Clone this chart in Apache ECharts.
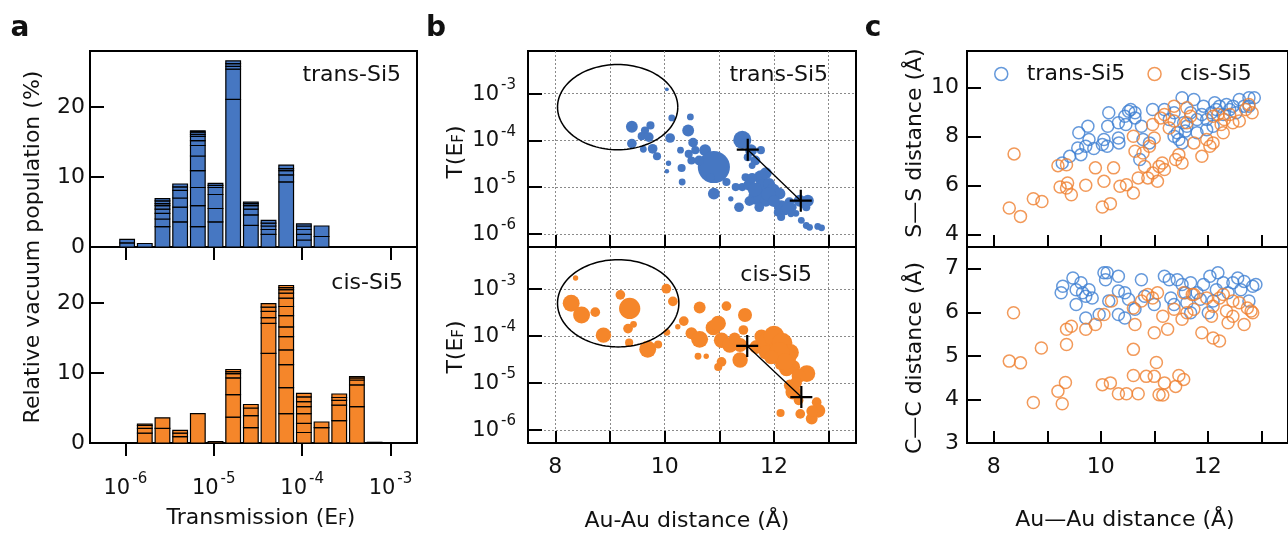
<!DOCTYPE html>
<html><head><meta charset="utf-8">
<script src="https://cdn.jsdelivr.net/npm/echarts@6/dist/echarts.min.js"></script>
<style>html,body{margin:0;padding:0;background:#fff}#c{width:1288px;height:534px}</style>
</head><body><div id="c"></div>
<script>
// ---------- Panel a: histogram of log10 transmission (stack boundaries, % population) ----------
const transBinCenters = [-5.98,-5.78,-5.58,-5.38,-5.18,-4.98,-4.78,-4.58,-4.38,-4.18,-3.98,-3.78];
const transStacks = [
  [0.6,1.1],
  [0.5],
  [2.9,4.0,4.8,5.4,5.9,6.2,6.6,6.9],
  [3.6,5.7,7.0,8.1,8.6,9.0],
  [2.9,5.9,8.5,10.9,13.0,14.5,15.2,15.8,16.1,16.4,16.6],
  [3.6,5.5,7.5,8.5,8.8,9.1],
  [21.1,25.4,25.8,26.2,26.6],
  [3.1,4.6,5.4,5.9,6.2,6.4],
  [1.8,2.5,3.0,3.4,3.8],
  [9.3,10.3,10.9,11.2,11.7],
  [1.0,1.8,2.5,3.0,3.3],
  [1.5,3.0]
];
const cisBinCenters = [-5.78,-5.58,-5.38,-5.18,-4.98,-4.78,-4.58,-4.38,-4.18,-3.98,-3.78,-3.58,-3.38,-3.18];
const cisStacks = [
  [1.4,2.1,2.5,2.7],
  [2.1,3.6],
  [0.9,1.4,1.8],
  [4.2],
  [0.2],
  [3.7,6.9,9.3,9.9,10.2,10.5],
  [2.2,3.9,5.0,5.5],
  [12.8,17.1,17.9,18.8,19.4,19.9],
  [4.2,7.9,11.2,13.3,15.2,16.6,18.2,19.5,20.7,21.4,21.9,22.2,22.5],
  [1.5,2.8,4.2,5.2,5.9,6.6,7.1],
  [2.2,3.0],
  [3.2,5.4,6.1,6.5,7.0],
  [5.2,8.3,9.0,9.3,9.5],
  [0.1]
];
const histXTicks = [-6,-5,-4,-3];
const histYTicks = [0,10,20];

// ---------- Panel b: [Au-Au distance, log10 T(EF), population weight] ----------
const transBubbles = [
  [10.04,-2.91,0.2],[9.40,-3.71,2.8],[9.74,-3.68,1.2],[9.64,-3.79,1.2],[9.58,-3.91,1.2],
  [9.71,-3.93,1.8],[9.40,-4.07,1.8],[9.61,-4.19,0.8],[9.78,-4.18,1.8],[9.86,-4.34,1.2],
  [10.13,-3.52,0.8],[10.10,-3.95,1.8],[10.43,-3.79,2.8],[10.47,-3.50,0.8],[10.52,-4.05,1.8],
  [10.29,-4.21,0.8],[10.44,-4.29,1.2],[10.56,-4.21,1.2],[10.74,-4.21,2.8],[10.49,-4.43,1.2],
  [10.07,-4.49,0.45],[10.04,-4.66,0.3],[10.31,-4.59,1.2],[10.90,-4.57,23],[10.63,-4.43,1.8],
  [10.32,-4.89,0.8],[10.90,-5.14,2.8],[11.13,-4.89,1.2],[11.42,-3.99,7],[11.58,-4.21,2.8],
  [11.76,-4.21,1.2],[11.52,-4.36,1.2],[11.66,-4.43,1.8],[11.60,-4.54,0.8],[11.76,-4.79,4],
  [11.79,-5.00,4.9],[11.91,-4.93,2.8],[11.98,-5.07,4],[12.10,-5.14,2.8],[11.67,-5.21,4.9],
  [11.85,-5.29,2.8],[11.73,-5.43,1.8],[11.42,-5.00,1.2],[11.30,-5.00,1.2],[11.21,-5.25,0.45],
  [11.36,-5.43,1.8],[12.13,-5.43,4],[12.28,-5.32,1.8],[12.34,-5.43,1.2],[12.07,-5.54,1.2],
  [12.13,-5.64,1.2],[12.47,-5.29,2.8],[12.62,-5.29,2.8],[12.59,-5.43,1.2],[12.40,-5.56,0.8],
  [12.31,-5.57,0.8],[12.50,-5.71,0.8],[12.59,-5.82,0.8],[12.65,-5.86,0.8],[12.80,-5.84,0.8],
  [12.87,-5.87,0.8],[10.84,-4.79,1.2],[11.48,-4.79,1.2],
  [11.55,-4.95,2.8],[11.65,-5.05,4],[11.90,-5.15,4],[12.00,-5.30,2.8],[12.20,-5.50,1.8],
  [12.25,-5.45,2.8],[11.55,-5.30,1.8],[12.55,-5.35,1.8],[11.85,-4.70,2.8],[11.60,-4.80,1.8]
];
const cisBubbles = [
  [8.37,-2.76,0.45],[8.29,-3.30,6],[8.48,-3.55,6],[8.73,-3.49,1.8],[8.88,-3.98,4.9],
  [9.19,-3.12,1.8],[9.36,-3.41,9.7],[9.33,-3.84,1.8],[9.43,-3.75,0.8],[9.35,-4.14,1.2],
  [9.69,-4.28,6],[9.88,-4.18,1.2],[10.03,-2.99,1.8],[10.15,-3.26,1.8],[10.04,-3.92,0.8],
  [10.24,-3.80,0.45],[10.35,-3.68,1.8],[10.49,-3.94,2.8],[10.64,-3.39,2.8],[10.64,-4.07,6],
  [10.61,-4.43,0.8],[10.76,-4.43,0.45],[10.89,-3.82,4.9],[10.98,-3.73,4.9],[11.13,-3.36,1.8],
  [11.04,-4.09,4.9],[11.19,-4.19,4.9],[11.04,-4.55,1.8],[10.98,-4.66,1.2],[11.38,-4.51,4.9],
  [11.47,-3.55,4],[11.44,-3.87,1.8],[11.28,-4.05,2.8],[11.38,-4.19,4],[11.68,-4.23,4],
  [11.77,-4.01,4],[12.05,-4.26,22],[11.93,-4.12,11],[12.00,-4.00,9],[12.15,-4.15,9],
  [12.30,-4.35,6],[11.85,-4.35,4],[12.23,-4.48,7.7],[12.35,-4.66,4],[12.23,-4.69,4.9],
  [12.60,-4.80,6],[12.29,-5.05,2.8],[12.35,-5.19,4.9],[12.45,-5.37,1.8],[12.78,-5.41,1.8],
  [12.81,-5.59,4],[12.69,-5.76,2.8],[12.48,-5.66,1.8],[12.12,-5.64,1.2],[12.11,-4.62,1.8],
  [12.10,-4.35,9],[12.20,-4.55,6],[11.95,-4.45,4],[12.45,-4.85,4],[12.40,-5.00,2.8],[12.70,-5.60,2.8]
];
const transMeans = [[11.52,-4.20],[12.49,-5.29]];
const cisMeans = [[11.51,-4.21],[12.50,-5.30]];
const transEllipse = [[9.14,-3.29,1.10,0.91]];
const cisEllipse = [[9.15,-3.30,1.11,0.93]];
const bYTicks = [-6,-5,-4,-3];
const distTicks = [8,9,10,11,12,13];
const distLabels = [8,10,12];

// ---------- Panel c: [Au-Au distance, S-S distance] and [Au-Au distance, C-C distance] ----------
const transSS = [
  [9.28,6.93],[9.42,7.20],[9.59,8.16],[9.76,8.43],[9.57,7.54],[9.72,7.61],[9.63,7.27],[9.78,7.89],
  [9.87,7.52],[10.03,7.68],[10.06,7.89],[10.15,8.98],[10.13,8.43],[10.12,7.61],[10.33,7.95],[10.34,7.75],
  [10.33,8.57],[10.45,8.84],[10.52,9.04],[10.56,9.11],[10.64,8.77],[10.76,8.43],[10.47,8.50],[10.64,8.98],
  [10.73,7.07],[10.79,7.89],[10.97,9.11],[10.91,7.75],[11.19,9.11],[11.28,8.70],[11.37,8.98],[11.43,8.16],
  [11.46,7.89],[11.52,9.59],[11.55,8.57],[11.61,8.43],[11.58,8.23],[11.52,7.75],[11.68,8.98],[11.74,9.52],
  [11.80,8.70],[11.80,8.16],[11.89,8.91],[11.92,9.25],[11.98,8.70],[11.98,8.29],[12.07,8.98],[12.13,9.39],
  [12.16,9.11],[12.22,9.25],[12.29,8.91],[12.35,9.32],[12.41,9.11],[12.47,9.25],[12.53,8.98],[12.59,9.52],
  [12.68,9.25],[12.77,9.59],[12.87,9.59],[12.77,9.25],[12.10,8.43],[11.37,8.02]
];
const cisSS = [
  [8.38,7.30],[8.29,5.09],[8.50,4.75],[8.74,5.47],[8.90,5.36],[9.20,6.82],[9.36,6.86],[9.24,5.95],
  [9.38,6.11],[9.36,5.91],[9.45,5.63],[9.72,6.02],[9.90,6.73],[10.06,6.18],[10.03,5.13],[10.18,5.27],
  [10.24,6.73],[10.36,5.98],[10.48,6.04],[10.61,5.70],[10.61,8.02],[10.64,7.41],[10.70,6.32],[10.79,7.34],
  [10.82,6.79],[10.88,6.32],[10.91,7.61],[10.97,6.52],[11.00,7.95],[10.97,8.50],[11.06,6.18],[11.09,6.79],
  [11.15,6.93],[11.19,6.66],[11.12,8.77],[11.19,8.91],[11.28,8.36],[11.37,9.25],[11.40,7.07],[11.46,7.27],
  [11.52,6.93],[11.61,9.18],[11.68,8.84],[11.74,7.75],[11.89,7.20],[11.98,7.89],[12.04,7.61],[12.10,7.75],
  [12.10,8.84],[12.19,8.91],[12.25,8.50],[12.31,8.70],[12.41,8.91],[12.47,8.57],[12.59,8.64],[12.71,9.11],
  [12.77,9.32],[12.83,8.98],[12.29,8.16],[11.61,8.57],[11.37,8.64]
];
const transCC = [
  [9.29,6.60],[9.26,6.45],[9.48,6.79],[9.54,6.52],[9.63,6.68],[9.66,6.45],[9.72,6.37],[9.78,6.52],
  [9.84,6.33],[9.54,6.18],[9.72,5.87],[10.06,6.91],[10.09,6.75],[10.12,6.91],[10.33,6.83],[10.15,6.26],
  [10.33,6.49],[10.45,6.45],[10.52,6.30],[10.33,5.95],[10.45,5.87],[10.64,6.07],[10.76,6.75],[10.82,6.37],
  [11.00,6.18],[11.19,6.83],[11.28,6.75],[11.37,6.18],[11.43,6.75],[11.52,6.64],[11.58,6.45],[11.61,6.22],
  [11.68,6.68],[11.80,6.45],[11.86,6.30],[11.92,6.64],[12.01,5.99],[12.04,6.83],[12.16,6.52],[12.19,6.91],
  [12.29,6.68],[12.38,6.45],[12.47,6.68],[12.56,6.79],[12.62,6.52],[12.68,6.71],[12.77,6.26],[12.84,6.60],
  [12.90,6.64],[12.10,6.26],[11.31,6.33],[11.68,5.99],[9.97,5.95]
];
const cisCC = [
  [8.37,5.99],[8.29,4.88],[8.50,4.84],[8.74,3.93],[8.89,5.18],[9.20,4.19],[9.28,3.90],[9.34,4.39],
  [9.36,5.26],[9.36,5.61],[9.45,5.68],[9.72,5.61],[9.90,5.72],[10.06,5.95],[10.03,4.34],[10.18,4.38],
  [10.33,4.13],[10.48,4.13],[10.70,4.13],[10.61,4.55],[10.61,5.15],[10.64,5.72],[10.20,6.26],[10.61,6.10],
  [10.76,6.26],[10.85,4.53],[11.00,4.53],[11.04,4.85],[11.00,5.53],[11.06,6.45],[10.88,6.41],[10.97,6.33],
  [11.16,5.91],[11.19,4.38],[11.16,4.10],[11.09,4.11],[11.25,5.61],[11.37,6.07],[11.40,4.30],[11.46,4.55],
  [11.55,4.46],[11.55,6.45],[11.52,5.84],[11.61,5.99],[11.74,6.07],[11.74,6.41],[11.89,5.53],[11.98,6.33],
  [12.07,5.91],[12.10,5.41],[12.22,5.34],[12.22,6.33],[12.29,6.41],[12.35,6.03],[12.38,5.76],[12.47,5.91],
  [12.47,6.26],[12.59,6.22],[12.68,5.72],[12.74,6.10],[12.81,6.03],[12.84,5.99],[12.10,6.14],[11.71,6.41]
];
const ssTicks = [4,6,8,10];
const ccTicks = [3,4,5,6,7];

// ---------- styling ----------
const FONT = 'DejaVu Sans';
const BLUE = '#4677c2', ORANGE = '#f5862a';
const BLUE_C = '#3f7fd2', ORANGE_C = '#ef8030';
const BAR_HALF = 0.083;

function stackData(centers, stacks) {
  const out = [];
  centers.forEach((c, i) => { let prev = 0; stacks[i].forEach(t => { out.push([c, prev, t]); prev = t; }); });
  return out;
}
function barRender(color) {
  return function (params, api) {
    const x = api.value(0), y0 = api.value(1), y1 = api.value(2);
    const p0 = api.coord([x - BAR_HALF, y1]);
    const p1 = api.coord([x + BAR_HALF, y0]);
    return { type: 'rect', shape: { x: p0[0], y: p0[1], width: p1[0] - p0[0], height: p1[1] - p0[1] },
      style: { fill: color, stroke: '#000', lineWidth: 1.2 } };
  };
}
function ellipseRender(params, api) {
  const cx = api.value(0), cy = api.value(1), rx = api.value(2), ry = api.value(3);
  const pts = [];
  for (let k = 0; k <= 120; k++) {
    const t = k / 120 * 2 * Math.PI;
    pts.push(api.coord([cx + rx * Math.cos(t), cy + ry * Math.sin(t)]));
  }
  return { type: 'polyline', shape: { points: pts }, style: { stroke: '#000', lineWidth: 1.5, fill: null } };
}
const PLUS = 'path://M9,0H11V9H20V11H11V20H9V11H0V9H9Z';
const bubbleSize = d => 1 + Math.sqrt(d[2]) * 6.5;

const supRich = {
  b: { fontFamily: FONT, fontSize: 21, lineHeight: 22, color: '#111', verticalAlign: 'bottom' },
  s: { fontFamily: FONT, fontSize: 15, lineHeight: 15, color: '#111', padding: [0, 0, 12, 2], verticalAlign: 'bottom' }
};
const supFmt = v => '{b|10}{s|' + v + '}';
const lbl = { fontFamily: FONT, fontSize: 22, color: '#111' };
const axLine = { show: true, onZero: false, lineStyle: { color: '#000', width: 2 } };
const dotted = { show: true, lineStyle: { color: '#8a8a8a', width: 1, type: [2, 2] } };

const grids = [
  { left: 90, top: 51, width: 327, height: 196 },
  { left: 90, top: 247, width: 327, height: 196 },
  { left: 528, top: 51, width: 328, height: 196 },
  { left: 528, top: 247, width: 328, height: 196 },
  { left: 967, top: 51, width: 327, height: 196 },
  { left: 967, top: 247, width: 327, height: 196 }
].map(g => Object.assign({ show: true, borderColor: '#000', borderWidth: 2, backgroundColor: 'transparent', containLabel: false }, g));

function histX(gi, withLabels) {
  return { type: 'value', gridIndex: gi, min: -6.4, max: -2.7, axisLine: axLine,
    axisTick: { show: true, customValues: histXTicks, inside: false, length: 13, lineStyle: { color: '#000', width: 2 } },
    axisLabel: withLabels ? { show: true, customValues: histXTicks, formatter: supFmt, rich: supRich, margin: 34 } : { show: false },
    splitLine: { show: false } };
}
function distX(gi, withLabels, grid) {
  return { type: 'value', gridIndex: gi, min: 7.5, max: 13.5, axisLine: axLine,
    axisTick: { show: true, customValues: distTicks, inside: true, length: 12, lineStyle: { color: '#000', width: 2 } },
    axisLabel: withLabels ? Object.assign({ show: true, customValues: distLabels, margin: 13 }, lbl) : { show: false },
    splitLine: grid ? dotted : { show: false } };
}
function simpleY(gi, min, max, ticks, margin, grid, rich) {
  const label = rich ? { show: true, customValues: ticks, formatter: supFmt, rich: supRich, margin: margin }
                     : Object.assign({ show: true, customValues: ticks, margin: margin }, lbl);
  return { type: 'value', gridIndex: gi, min: min, max: max, axisLine: axLine,
    axisTick: { show: true, customValues: ticks, inside: true, length: 14, lineStyle: { color: '#000', width: 2 } },
    axisLabel: label, splitLine: grid ? dotted : { show: false } };
}

const circleStyle = c => ({ color: 'rgba(0,0,0,0)', borderColor: c, borderWidth: 1.5 });

const option = {
  animation: false,
  backgroundColor: '#fff',
  grid: grids,
  xAxis: [histX(0, false), histX(1, true), distX(2, false, true), distX(3, true, true), distX(4, false, false), distX(5, true, false)],
  yAxis: [
    simpleY(0, 0, 28, histYTicks, 5, false, false),
    simpleY(1, 0, 28, histYTicks, 5, false, false),
    simpleY(2, -6.28, -2.09, bYTicks, 12, true, true),
    simpleY(3, -6.28, -2.10, bYTicks, 12, true, true),
    simpleY(4, 3.5, 11.5, ssTicks, 8, false, false),
    simpleY(5, 3, 7.5, ccTicks, 8, false, false)
  ],
  legend: {
    left: 989, top: 58, itemWidth: 13, itemHeight: 13, itemGap: 22, selectedMode: false,
    formatter: n => '  ' + n,
    textStyle: { fontFamily: FONT, fontSize: 22, color: '#111' },
    data: [
      { name: 'trans-Si5', icon: 'circle', itemStyle: circleStyle(BLUE_C) },
      { name: 'cis-Si5', icon: 'circle', itemStyle: circleStyle(ORANGE_C) }
    ]
  },
  series: [
    { type: 'custom', name: 'trans hist', xAxisIndex: 0, yAxisIndex: 0, renderItem: barRender(BLUE),
      encode: { x: 0, y: [1, 2] }, data: stackData(transBinCenters, transStacks) },
    { type: 'custom', name: 'cis hist', xAxisIndex: 1, yAxisIndex: 1, renderItem: barRender(ORANGE),
      encode: { x: 0, y: [1, 2] }, data: stackData(cisBinCenters, cisStacks) },

    { type: 'scatter', name: 'trans T', xAxisIndex: 2, yAxisIndex: 2, data: transBubbles,
      symbolSize: bubbleSize, itemStyle: { color: BLUE, opacity: 1 } },
    { type: 'custom', name: 'trans ell', xAxisIndex: 2, yAxisIndex: 2, renderItem: ellipseRender,
      encode: { x: 0, y: 1 }, data: transEllipse, z: 5 },
    { type: 'line', name: 'trans mean', xAxisIndex: 2, yAxisIndex: 2, data: transMeans, symbol: PLUS, symbolSize: 22,
      itemStyle: { color: '#000' }, lineStyle: { color: '#000', width: 1.3 }, z: 6 },

    { type: 'scatter', name: 'cis T', xAxisIndex: 3, yAxisIndex: 3, data: cisBubbles,
      symbolSize: bubbleSize, itemStyle: { color: ORANGE, opacity: 1 } },
    { type: 'custom', name: 'cis ell', xAxisIndex: 3, yAxisIndex: 3, renderItem: ellipseRender,
      encode: { x: 0, y: 1 }, data: cisEllipse, z: 5 },
    { type: 'line', name: 'cis mean', xAxisIndex: 3, yAxisIndex: 3, data: cisMeans, symbol: PLUS, symbolSize: 22,
      itemStyle: { color: '#000' }, lineStyle: { color: '#000', width: 1.3 }, z: 6 },

    { type: 'scatter', name: 'trans-Si5', xAxisIndex: 4, yAxisIndex: 4, data: transSS, symbol: 'circle', symbolSize: 12, itemStyle: circleStyle(BLUE_C) },
    { type: 'scatter', name: 'cis-Si5', xAxisIndex: 4, yAxisIndex: 4, data: cisSS, symbol: 'circle', symbolSize: 12, itemStyle: circleStyle(ORANGE_C) },
    { type: 'scatter', name: 'trans-Si5', xAxisIndex: 5, yAxisIndex: 5, data: transCC, symbol: 'circle', symbolSize: 12, itemStyle: circleStyle(BLUE_C) },
    { type: 'scatter', name: 'cis-Si5', xAxisIndex: 5, yAxisIndex: 5, data: cisCC, symbol: 'circle', symbolSize: 12, itemStyle: circleStyle(ORANGE_C) }
  ],
  graphic: []
};

function txt(x, y, text, opts) {
  opts = opts || {};
  return { type: 'text', x: x, y: y, rotation: opts.rot || 0, z: 100,
    style: Object.assign({ text: text, fill: '#111', fontFamily: FONT, fontSize: opts.size || 22, fontWeight: opts.weight || 'normal',
      align: opts.align || 'center', verticalAlign: 'middle', textAlign: opts.align || 'center', textVerticalAlign: 'middle' },
      opts.rich ? { rich: opts.rich } : {}) };
}
const subRich = {
  a: { fontFamily: FONT, fontSize: 22, lineHeight: 26, color: '#111', verticalAlign: 'bottom' },
  f: { fontFamily: FONT, fontSize: 15, lineHeight: 15, color: '#111', padding: [14, 0, 0, 0], verticalAlign: 'bottom' }
};
const R = Math.PI / 2;
option.graphic = [
  txt(20, 29, 'a', { size: 28, weight: 'bold' }),
  txt(436, 29, 'b', { size: 28, weight: 'bold' }),
  txt(873, 29, 'c', { size: 28, weight: 'bold' }),
  txt(33, 247, 'Relative vacuum population (%)', { rot: R }),
  txt(261, 516, '{a|Transmission (E}{f|F}{a|)}', { rich: subRich }),
  txt(454, 152, '{a|T(E}{f|F}{a|)}', { rot: R, rich: subRich }),
  txt(454, 347, '{a|T(E}{f|F}{a|)}', { rot: R, rich: subRich }),
  txt(687, 521, 'Au-Au distance (Å)'),
  txt(915, 143, 'S—S distance (Å)', { rot: R }),
  txt(915, 358, 'C—C distance (Å)', { rot: R }),
  txt(1125, 520, 'Au—Au distance (Å)'),
  txt(401, 75, 'trans-Si5', { align: 'right' }),
  txt(403, 283, 'cis-Si5', { align: 'right' }),
  txt(828, 75, 'trans-Si5', { align: 'right' }),
  txt(812, 275, 'cis-Si5', { align: 'right' })
];

const chart = echarts.init(document.getElementById('c'), null, { renderer: 'canvas', width: 1288, height: 534 });
chart.setOption(option);
</script></body></html>
